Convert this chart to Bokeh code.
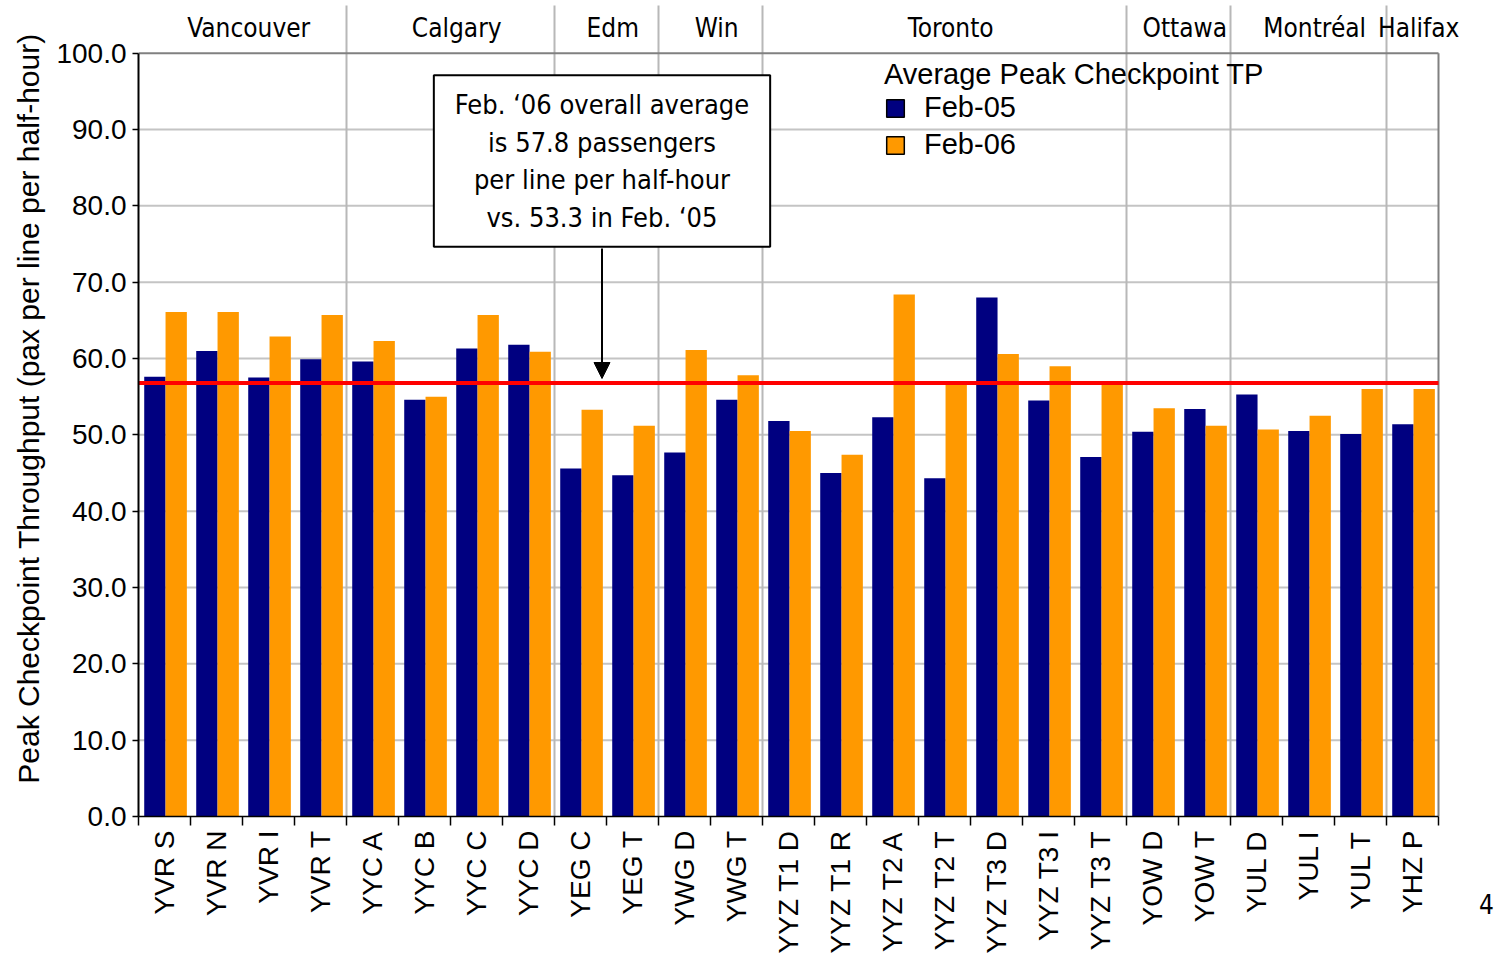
import math
import numpy as np
from bokeh.plotting import figure
from bokeh.models import (Range1d, FixedTicker, ColumnDataSource, Label, Arrow,
                          NormalHead, Legend, LegendItem)
from bokeh.core.properties import value
from bokeh.embed import file_html
from bokeh.resources import INLINE

# ---------------- data ----------------
categories = ["YVR S", "YVR N", "YVR I", "YVR T", "YYC A", "YYC B", "YYC C", "YYC D",
              "YEG C", "YEG T", "YWG D", "YWG T", "YYZ T1 D", "YYZ T1 R", "YYZ T2 A",
              "YYZ T2 T", "YYZ T3 D", "YYZ T3 I", "YYZ T3 T", "YOW D", "YOW T",
              "YUL D", "YUL I", "YUL T", "YHZ P"]
feb05 = [57.6, 61.0, 57.5, 59.9, 59.6, 54.6, 61.3, 61.8, 45.6, 44.7, 47.7, 54.6, 51.8,
         45.0, 52.3, 44.3, 68.0, 54.5, 47.1, 50.4, 53.4, 55.3, 50.5, 50.1, 51.4]
feb06 = [66.1, 66.1, 62.9, 65.7, 62.3, 55.0, 65.7, 60.9, 53.3, 51.2, 61.1, 57.8, 50.5,
         47.4, 68.4, 56.7, 60.6, 59.0, 56.6, 53.5, 51.2, 50.7, 52.5, 56.0, 56.0]
series_names = ["Feb-05", "Feb-06"]
groups = ["Vancouver", "Calgary", "Edm", "Win", "Toronto", "Ottawa", "Montréal", "Halifax"]
group_sizes = [4, 4, 2, 2, 7, 2, 3, 1]
average_line = 56.8
y_ticks = [0, 10, 20, 30, 40, 50, 60, 70, 80, 90, 100]
y_tick_labels = ["0.0", "10.0", "20.0", "30.0", "40.0", "50.0", "60.0", "70.0",
                 "80.0", "90.0", "100.0"]
legend_title = "Average Peak Checkpoint TP"
note_text = ("Feb. \u201806 overall average\nis 57.8 passengers\n"
             "per line per half-hour\nvs. 53.3 in Feb. \u201805")
y_label = "Peak Checkpoint Throughput (pax per line per half-hour)"
page_number = "4"

# ---------------- styling / geometry ----------------
NAVY = "#000080"
ORANGE = "#FF9900"
W, H = 1496, 960
BORDER_L = 138
BORDER_R = 30
FRAME_H = 816
PX_PER_CAT = 52.0
PX_PER_UNIT = 7.633
SANS = "Liberation Sans"
NARROW = "DejaVu Sans Condensed"


def px_to_x(px):
    return (px - BORDER_L) / PX_PER_CAT


def px_to_y(py):
    return (FRAME_H - py) / PX_PER_UNIT


n = len(categories)
idx = np.arange(n)
x_end = (W - BORDER_L - BORDER_R) / PX_PER_CAT
y_end = FRAME_H / PX_PER_UNIT

p = figure(width=W, height=H, output_backend="svg", toolbar_location=None,
           x_range=Range1d(0, x_end), y_range=Range1d(0, y_end),
           min_border_left=BORDER_L, min_border_right=BORDER_R, min_border_top=0,
           min_border_bottom=H - FRAME_H)
p.outline_line_color = None
p.xgrid.visible = False
p.ygrid.visible = False
p.background_fill_color = "white"
p.border_fill_color = "white"

# horizontal grid lines (inside plot only)
grid_y = [t for t in y_ticks if 0 < t < y_ticks[-1]]
p.segment(x0=[0] * len(grid_y), x1=[n] * len(grid_y), y0=grid_y, y1=grid_y,
          line_color="#c4c4c4", line_width=2)

# group dividers extending above the plot
bounds = np.cumsum(group_sizes)
div_x = [float(b) for b in bounds[:-1]]
p.segment(x0=div_x, x1=div_x, y0=[0] * len(div_x), y1=[px_to_y(5)] * len(div_x),
          line_color="#b8b8b8", line_width=2)

# plot border (top and right)
p.segment(x0=[0, n], x1=[n, n], y0=[y_ticks[-1], 0], y1=[y_ticks[-1], y_ticks[-1]],
          line_color="#808080", line_width=2)

# bars
src = ColumnDataSource(dict(cat=categories, x05=idx + 0.315, x06=idx + 0.725,
                            feb05=feb05, feb06=feb06))
p.vbar(x="x05", top="feb05", bottom=0, width=0.41, source=src,
       fill_color=NAVY, line_color=None)
p.vbar(x="x06", top="feb06", bottom=0, width=0.41, source=src,
       fill_color=ORANGE, line_color=None)

# average line
p.segment(x0=[0], x1=[n], y0=[average_line], y1=[average_line],
          line_color="#FF0000", line_width=4)

# group labels
starts = bounds - np.array(group_sizes)
g_centers = starts + np.array(group_sizes) / 2.0 + 0.12
gsrc = ColumnDataSource(dict(x=g_centers, y=[px_to_y(27)] * len(groups), t=groups))
p.text(x="x", y="y", text="t", source=gsrc, text_align="center",
       text_baseline="middle", text_font=value(NARROW), text_font_size="26px",
       text_color="black")

# axes
xa = p.xaxis[0]
xa.ticker = FixedTicker(ticks=[float(i) + 0.5 for i in idx],
                        minor_ticks=[float(i) for i in range(n + 1)])
xa.major_label_overrides = {float(i) + 0.5: c for i, c in zip(idx, categories)}
xa.bounds = (0, n)
xa.major_tick_line_color = None
xa.major_tick_out = 0
xa.major_tick_in = 0
xa.minor_tick_out = 9
xa.minor_tick_in = 0
xa.minor_tick_line_color = "black"
xa.minor_tick_line_width = 1.5
xa.axis_line_color = "black"
xa.axis_line_width = 1.5
xa.major_label_orientation = math.pi / 2
xa.major_label_standoff = 5
xa.major_label_text_font = SANS
xa.major_label_text_font_size = "28px"
xa.major_label_text_color = "black"

ya = p.yaxis[0]
ya.ticker = FixedTicker(ticks=y_ticks, minor_ticks=[])
ya.major_label_overrides = {t: l for t, l in zip(y_ticks, y_tick_labels)}
ya.bounds = (0, y_ticks[-1])
ya.major_tick_out = 6
ya.major_tick_in = 0
ya.minor_tick_line_color = None
ya.major_tick_line_color = "black"
ya.major_tick_line_width = 1.5
ya.axis_line_color = "black"
ya.axis_line_width = 2
ya.major_label_standoff = 6
ya.major_label_text_font = SANS
ya.major_label_text_font_size = "28px"
ya.major_label_text_color = "black"
ya.axis_label = y_label
ya.axis_label_text_font = SANS
ya.axis_label_text_font_size = "30px"
ya.axis_label_text_font_style = "normal"
ya.axis_label_text_color = "black"
ya.axis_label_standoff = 8

# annotation box + arrow
note_x = px_to_x(601.5)
note = Label(x=note_x, y=px_to_y(160.5), text=note_text, text_align="center",
             text_baseline="middle", text_font=NARROW, text_font_size="27px",
             text_color="black", text_line_height=1.21,
             background_fill_color="white", border_line_color="black",
             border_line_width=2,
             padding=dict(left=21, right=21, top=14, bottom=14))
p.add_layout(note)
arrow = Arrow(x_start=note_x, y_start=px_to_y(248), x_end=note_x, y_end=px_to_y(378),
              line_color="black", line_width=2,
              end=NormalHead(size=16, fill_color="black", line_color="black"))
p.add_layout(arrow)

# legend (proxy renderers carry the outlined swatches, no visible marks)
proxy = ColumnDataSource(dict(x=[np.nan], top=[np.nan]))
r05 = p.vbar(x="x", top="top", width=0.4, source=proxy, fill_color=NAVY,
             line_color="black", line_width=1.5)
r06 = p.vbar(x="x", top="top", width=0.4, source=proxy, fill_color=ORANGE,
             line_color="black", line_width=1.5)
legend = Legend(items=[LegendItem(label=series_names[0], renderers=[r05]),
                       LegendItem(label=series_names[1], renderers=[r06])],
                title=legend_title, location=(746, FRAME_H - 161),
                title_text_font=SANS, title_text_font_size="29px",
                title_text_font_style="normal", title_text_color="black",
                title_standoff=0,
                label_text_font=SANS, label_text_font_size="29px",
                label_text_color="black",
                glyph_width=22, glyph_height=22, label_standoff=18,
                spacing=4, padding=0, margin=0,
                border_line_color=None, background_fill_alpha=0)
p.add_layout(legend)

# page number (placed in the right side panel so it is not clipped to the frame)
p.add_layout(Label(x=px_to_x(1486), y=px_to_y(903), text=page_number,
                   text_align="center", text_baseline="middle",
                   text_font=NARROW, text_font_size="26px", text_color="black"),
             "right")

open("out.html", "w").write(file_html(p, INLINE))
